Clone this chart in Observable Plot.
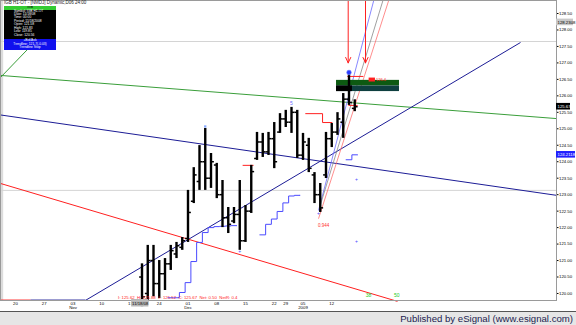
<!DOCTYPE html>
<html><head><meta charset="utf-8">
<script src="https://cdn.jsdelivr.net/npm/d3@7"></script>
<script src="https://cdn.jsdelivr.net/npm/@observablehq/plot@0.6"></script>
<style>
body{margin:0;background:#fff;font-family:"Liberation Sans",Arial,sans-serif;}
#wrap{position:relative;width:576px;height:325px;overflow:hidden;background:#fff}
#chart svg{display:block}
#footer{position:absolute;left:0;top:311px;width:576px;height:14px;background:#e6e6e6;border-top:1px solid #555;box-sizing:border-box;font-size:9.6px;color:#1c1c50;text-align:right;padding-right:3px;line-height:13px}
#title{position:absolute;left:4px;top:0px;font-size:4.5px;color:#222;white-space:nowrap}
#info{position:absolute;left:4px;top:6px;width:52px;height:44px;background:#000;color:#fff;font-size:3.3px;line-height:3.45px;overflow:hidden}
#info .hd{background:#33cc33;color:#000;text-align:center;height:3.5px;line-height:3.5px}
#info .row{padding-left:10px;white-space:nowrap}
#info .bl{position:absolute;left:0;bottom:0;width:52px;height:11.5px;background:#1010ee;text-align:center;line-height:3.6px;padding-top:0.5px;box-sizing:border-box}
#status{position:absolute;left:118px;top:294.8px;font-size:4.3px;color:#ff2020;white-space:nowrap}
</style></head>
<body><div id="wrap"><div id="chart"></div>
<div id="title">IGB H1-OT - [NMDJ] Dynamic,D06 24:00</div>
<div id="info"><div class="hd">IGB</div>
<div class="row">Symbol: IGB H1-OT</div>
<div class="row">Date: 11/18/08</div>
<div class="row">Time: 00:00</div>
<div class="row">Period: 11/18/2008</div>
<div class="row">Open: 121.58</div>
<div class="row">High: 121.83</div>
<div class="row">Low: 119.85</div>
<div class="row">Close: 120.56</div>
<div class="bl">+Bid/Ask<br>Trendline: 121.7(-0.03)<br>Trendline Stop</div></div>
<div id="status">I: 125.62 &nbsp;H: 125.88 &nbsp;L: 125.52 &nbsp;C: 125.67 &nbsp;Net: 0.50 &nbsp;NetR: 0.4</div>
<div id="footer">Published by eSignal (www.esignal.com)</div>
</div>
<script>
// ---- data (bar index = trading day counted from Oct 20 2008) ----
const barIdx = [22,23,24,25,26,27,28,29,30,31,32,33,34,35,36,37,38,39,40,41,42,43,44,45,46,47,48,49,50,51,52,53,54,55,56,57,58,59];
const opens  = [120.5,120.0,121.0,120.3,120.6,120.9,121.2,121.4,121.67,122.8,123.4,124.0,123.5,123.9,123.0,122.3,122.2,122.4,121.6,122.5,124.1,124.6,124.3,124.7,124.9,125.3,125.2,125.5,124.2,124.5,123.6,123.0,123.6,124.7,124.9,125.2,125.9,125.62];
const highs  = [120.9,121.46,121.46,121.0,121.06,121.46,121.55,121.70,123.13,123.82,124.49,125.01,124.25,123.95,123.43,122.61,122.61,123.43,122.67,123.89,124.89,124.86,124.89,125.19,125.46,125.56,125.65,125.56,124.86,124.71,123.67,123.34,124.89,125.16,125.49,126.07,126.71,125.88];
const lows   = [119.6,119.75,119.9,119.85,120.09,120.7,121.06,121.31,121.55,122.73,123.13,123.13,123.19,122.88,122.00,121.82,122.12,121.31,121.55,122.43,124.04,124.13,124.19,123.79,124.86,125.04,124.86,124.10,124.04,123.67,122.73,122.46,123.49,124.43,124.80,124.71,125.71,125.52];
const closes = [119.9,121.0,120.3,120.6,120.9,121.3,121.45,121.6,122.46,123.6,124.0,123.5,124.0,123.0,122.3,122.1,122.4,121.6,122.5,123.7,124.6,124.3,124.7,124.0,125.3,125.2,125.5,124.2,124.6,123.8,123.0,122.6,124.7,124.9,125.3,125.9,125.8,125.67];

const dateIdx = [0,5,10,15,20,25,30,35,40,45,47,50,55];
const dateLbl = ["20","27","03","10","17","24","01","08","15","22","29","05","12"];
const monthIdx = [10,30,50];
const monthLbl = ["Nov","Dec","2009"];
const priceTicks = d3.range(120, 128.51, 0.5);

// trailing stop steps (bar index, value)
const stop1Idx = [27,28,29,30,31,32,33,34,35,36,37,38];
const stop1Val = [119.87,119.87,120.03,120.33,120.97,121.55,121.85,122.00,122.03,122.04,122.05,122.06];
const stop2Idx = [43,44,45,46,47,48,49];
const stop2Val = [121.78,122.10,122.26,122.49,122.75,122.96,122.98];
const stop3Idx = [58,59];
const stop3Val = [124.06,124.21];

// drawn trend lines: [x1,y1,x2,y2] in (bar index, price)
const greenLine   = [-2.6,126.62,94.1,125.31];
const greenShort  = [-2.6,126.56,2.26,127.44];
const navyUp      = [12.17,119.79,87.83,127.62];
const navyFlat    = [2.6,119.80,12.17,119.80];
const navyDown    = [-2.6,125.42,94.1,122.98];
const redDown     = [-2.6,123.34,66.43,119.76];
const redBase     = [-2.6,119.80,2.6,119.80];
const fanBlue     = [52.7,122.52,62.3,128.895];
const fanGray     = [52.9,122.62,63.9,128.895];
const fanRed      = [52.7,122.27,64.9,128.895];
const hLines      = [127.65,123.13];
const redArrowsX  = [57.86,60.87];
const redArrowTop = 128.895, redArrowTip = 127.0;
const redSegs = [[57.7,126.59,60.5,126.59],[57.9,125.71,59.5,125.71],[39.5,123.89,41.4,123.89],[50.4,125.46,53.4,125.46],[53.4,125.46,53.4,125.19],[53.4,125.19,55.1,125.19]];
const zone = {x1:55.83,x2:66.78,ytop:126.47,ymid:126.30,ybot:126.13,xblack:58.6};
const last = {close:125.67, stop:124.21, gray:128.23};

const X0 = -2.6087, X1 = 94.087;
const bars = barIdx.map((i,k)=>({i,o:opens[k],h:highs[k],l:lows[k],c:closes[k]}));
const seg = a => ({x1:a[0],y1:a[1],x2:a[2],y2:a[3]});
const stepPts = (idx,val) => {const p=[]; idx.forEach((i,k)=>{p.push({x:i-0.5,y:val[k]});}); p.push({x:idx[idx.length-1]+0.5,y:val[val.length-1]}); return p;};
const axW = 20/5.75;

const chart = Plot.plot({
  width:576, height:311, marginLeft:0, marginRight:20, marginTop:0, marginBottom:11,
  style:{fontFamily:"Liberation Sans, Arial, sans-serif", background:"#fff", overflow:"visible"},
  x:{domain:[X0,X1], axis:null},
  y:{domain:[119.787,128.895], axis:null},
  marks:[
    Plot.rect([0],{x1:X0,x2:X0+0.55,y1:119.787,y2:128.895,fill:"#dcdcdc"}),
    Plot.ruleY(hLines,{stroke:"#d4d4d4",strokeWidth:1}),
    Plot.link([seg(greenLine),seg(greenShort)],{x1:"x1",y1:"y1",x2:"x2",y2:"y2",stroke:"#3a9e3a",strokeWidth:1}),
    Plot.link([seg(navyUp),seg(navyFlat),seg(navyDown)],{x1:"x1",y1:"y1",x2:"x2",y2:"y2",stroke:"#1c1c96",strokeWidth:1}),
    Plot.link([seg(redDown),seg(redBase)],{x1:"x1",y1:"y1",x2:"x2",y2:"y2",stroke:"#ff2020",strokeWidth:1}),
    Plot.link([seg(fanBlue)],{x1:"x1",y1:"y1",x2:"x2",y2:"y2",stroke:"#6a6aff",strokeWidth:0.8}),
    Plot.link([seg(fanGray)],{x1:"x1",y1:"y1",x2:"x2",y2:"y2",stroke:"#888",strokeWidth:0.8}),
    Plot.link([seg(fanRed)],{x1:"x1",y1:"y1",x2:"x2",y2:"y2",stroke:"#ff7070",strokeWidth:0.8}),
    Plot.line(stepPts(stop1Idx,stop1Val),{x:"x",y:"y",curve:"step-after",stroke:"#4a4aff",strokeWidth:1}),
    Plot.line(stepPts(stop2Idx,stop2Val),{x:"x",y:"y",curve:"step-after",stroke:"#4a4aff",strokeWidth:1}),
    Plot.line(stepPts(stop3Idx,stop3Val),{x:"x",y:"y",curve:"step-after",stroke:"#4a4aff",strokeWidth:1}),
    // zone
    Plot.rect([zone],{x1:"x1",x2:"x2",y1:"ymid",y2:"ytop",fill:"#0d5a12"}),
    Plot.rect([zone],{x1:"x1",x2:"x2",y1:"ybot",y2:"ymid",fill:"#0e3f3f"}),
    Plot.rect([zone],{x1:"x1",x2:"xblack",y1:"ybot",y2:"ymid",fill:"#000"}),
    Plot.link(redSegs.map(seg),{x1:"x1",y1:"y1",x2:"x2",y2:"y2",stroke:"#ff2020",strokeWidth:1}),
    Plot.arrow(redArrowsX,{x:d=>d,y1:redArrowTop,y2:redArrowTip,stroke:"#ff2020",strokeWidth:1,headLength:9,headAngle:50}),
    // OHLC bars
    Plot.ruleX(bars,{x:"i",y1:"l",y2:"h",stroke:"#000",strokeWidth:2.4}),
    Plot.link(bars,{x1:d=>d.i-0.5,x2:"i",y1:"o",y2:"o",stroke:"#000",strokeWidth:1.5}),
    Plot.link(bars,{x1:"i",x2:d=>d.i+0.5,y1:"c",y2:"c",stroke:"#000",strokeWidth:1.5}),
    // markers
    Plot.dot([{i:33,p:125.01}],{x:"i",y:"p",symbol:"square",r:1.3,fill:"#88aaff",dy:-2}),
    Plot.text([{i:48,p:125.65,t:"5"}],{x:"i",y:"p",text:"t",fill:"#6a6aff",fontSize:5,dy:-4}),
    Plot.dot([{i:58,p:126.71}],{x:"i",y:"p",r:2.4,fill:"#2a3cff",stroke:"#9aa8ff",strokeWidth:0.6}),
    Plot.text([{i:59.3,p:123.49},{i:59.3,p:121.61},{i:52.7,p:122.46},{i:39,p:121.31}],{x:"i",y:"p",text:()=>"+",fill:"#4a4aff",fontSize:5,dy:1}),
    Plot.text([{i:53.6,p:122.06,t:"0.944"}],{x:"i",y:"p",text:"t",fill:"#ff3030",fontSize:4.5}),
    Plot.rect([{x1:61.5,x2:62.6,y1:126.42,y2:126.54}],{x1:"x1",x2:"x2",y1:"y1",y2:"y2",fill:"#ff2020"}),
    Plot.text([{i:62.6,p:126.48,t:"126.4"}],{x:"i",y:"p",text:"t",fill:"#ff2020",fontSize:4,textAnchor:"start",dx:0.5}),
    Plot.text([{i:61.4,p:119.94,t:"38"},{i:66.3,p:119.94,t:"50"}],{x:"i",y:"p",text:"t",fill:"#22cc22",fontSize:5}),
    // frame & right axis
    Plot.frame({stroke:"#9a9a9a",strokeWidth:1}),
    Plot.axisY(priceTicks,{anchor:"right",tickFormat:d3.format(".2f"),tickSize:1.5,tickPadding:1,fontSize:4.3}),
    Plot.rect([last],{x1:X1,x2:X1+axW*0.85,y1:d=>d.gray-0.1,y2:d=>d.gray+0.1,fill:"#c8c8c8"}),
    Plot.text([last],{x:X1,y:"gray",text:()=>"128.2308",textAnchor:"start",dx:1,fontSize:4.3,fill:"#000"}),
    Plot.rect([last],{x1:X1,x2:X1+axW*0.7,y1:d=>d.close-0.1,y2:d=>d.close+0.1,fill:"#000"}),
    Plot.text([last],{x:X1,y:"close",text:d=>d.close.toFixed(2),textAnchor:"start",dx:1,fontSize:4.3,fill:"#fff"}),
    Plot.rect([last],{x1:X1,x2:X1+axW*0.95,y1:d=>d.stop-0.1,y2:d=>d.stop+0.1,fill:"#2020ff"}),
    Plot.text([last],{x:X1,y:"stop",text:()=>"124.2118",textAnchor:"start",dx:1,fontSize:4.3,fill:"#fff"}),
    // date axis
    Plot.text(dateIdx,{x:d=>d,frameAnchor:"bottom",dy:4,text:(d,k)=>dateLbl[k],fontSize:4.3,fill:"#000"}),
    Plot.text(monthIdx,{x:d=>d,frameAnchor:"bottom",dy:8,text:(d,k)=>monthLbl[k],fontSize:4.3,fill:"#000"}),
    Plot.rect([{a:20.2,b:23.2}],{x1:"a",x2:"b",y1:119.787,y2:119.787,insetBottom:-6.5,insetTop:-1,fill:"#b8b8b8"}),
    Plot.text([21.7],{x:d=>d,frameAnchor:"bottom",dy:4,text:()=>"11/18/08",fontSize:4.3,fill:"#000"})
  ]
});
document.getElementById("chart").appendChild(chart);
</script></body></html>
